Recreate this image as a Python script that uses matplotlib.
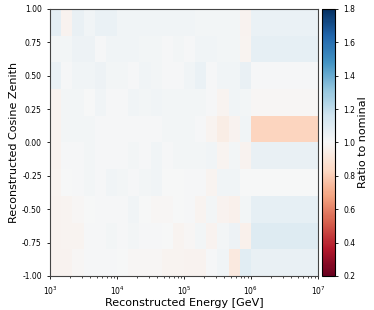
import numpy as np
import matplotlib
matplotlib.use('Agg')
import matplotlib.pyplot as plt

# bin edges: 6 bins per decade from 1e3 to 1e6, then one wide bin up to 1e7
energy_edges = list(np.logspace(3, 6, 19)) + [1e7]
coszen_edges = [-1.0, -0.8, -0.6, -0.4, -0.2, 0.0, 0.2, 0.4, 0.6, 0.8, 1.0]

# ratio values, one row per cos(zenith) bin, bottom (-1) to top (+1)
row_m10 = [0.97, 0.97, 0.99, 1.01, 1.01, 1.01, 1.00, 0.99, 0.99, 0.99, 0.98, 0.98, 0.97, 0.97, 1.01, 1.03, 0.92, 1.09, 1.06]
row_m08 = [0.97, 0.98, 0.98, 1.01, 1.01, 1.02, 1.01, 1.02, 1.01, 1.01, 1.00, 0.98, 0.99, 1.02, 0.97, 1.02, 1.04, 0.96, 1.10]
row_m06 = [0.97, 0.98, 0.99, 1.00, 1.01, 1.01, 1.01, 1.03, 1.00, 0.99, 0.99, 1.00, 1.01, 0.98, 1.02, 0.97, 0.96, 1.02, 1.07]
row_m04 = [0.98, 1.00, 1.01, 1.02, 1.01, 1.03, 1.02, 1.01, 1.02, 1.03, 1.00, 1.00, 1.01, 1.01, 0.98, 1.03, 1.03, 1.00, 1.00]
row_m02 = [0.97, 1.01, 1.01, 1.02, 1.01, 1.01, 1.01, 1.02, 1.01, 1.03, 1.01, 1.02, 1.02, 1.02, 1.03, 0.98, 1.02, 0.97, 1.06]
row_p00 = [0.97, 1.02, 1.02, 1.02, 1.01, 1.01, 1.01, 1.01, 1.01, 1.01, 1.02, 1.02, 1.02, 1.01, 0.98, 0.94, 0.97, 1.03, 0.82]
row_p02 = [0.97, 1.02, 1.02, 1.00, 1.03, 1.01, 1.01, 1.03, 1.02, 1.03, 1.02, 1.02, 1.02, 1.02, 1.01, 0.98, 1.03, 1.02, 0.99]
row_p04 = [1.05, 1.01, 1.03, 1.03, 1.04, 1.02, 1.02, 1.01, 1.03, 1.02, 1.01, 1.01, 1.03, 1.05, 1.01, 1.03, 1.03, 1.06, 1.01]
row_p06 = [1.02, 1.02, 1.04, 1.04, 1.01, 1.03, 1.03, 1.03, 1.02, 1.02, 1.01, 1.02, 1.01, 1.03, 1.03, 1.02, 1.02, 0.98, 1.07]
row_p08 = [1.08, 0.97, 1.06, 1.03, 1.05, 1.05, 1.03, 1.03, 1.03, 1.03, 1.03, 1.03, 1.03, 1.02, 1.02, 1.02, 1.02, 0.97, 1.05]

ratio = np.array([row_m10, row_m08, row_m06, row_m04, row_m02,
                  row_p00, row_p02, row_p04, row_p06, row_p08])

fig = plt.figure(figsize=(3.74, 3.10), dpi=100)
ax = fig.add_axes([0.134, 0.110, 0.716, 0.861])
cax = fig.add_axes([0.861, 0.110, 0.035, 0.861])

mesh = ax.pcolormesh(energy_edges, coszen_edges, ratio, cmap='RdBu', vmin=0.2, vmax=1.8)
ax.set_xscale('log')
ax.set_xlim(1e3, 1e7)
ax.set_ylim(-1, 1)
ax.set_yticks([-1.0, -0.75, -0.5, -0.25, 0.0, 0.25, 0.5, 0.75, 1.0])
ax.set_yticklabels(['-1.00', '-0.75', '-0.50', '-0.25', '0.00', '0.25', '0.50', '0.75', '1.00'])
ax.tick_params(labelsize=5.5, length=2.5, width=0.6)
ax.tick_params(which='minor', length=1.5, width=0.5)
ax.set_xlabel('Reconstructed Energy [GeV]', fontsize=8, labelpad=1)
ax.set_ylabel('Reconstructed Cosine Zenith', fontsize=8, labelpad=2)
for s in ax.spines.values():
    s.set_linewidth(0.8)
    s.set_color('#444444')

cb = fig.colorbar(mesh, cax=cax)
cb.set_ticks([0.2, 0.4, 0.6, 0.8, 1.0, 1.2, 1.4, 1.6, 1.8])
cb.ax.tick_params(labelsize=5.5, length=2.5, width=0.6)
cb.outline.set_linewidth(0.8)
cb.set_label('Ratio to nominal', fontsize=8, labelpad=2)

fig.savefig('out.png', dpi=100)
